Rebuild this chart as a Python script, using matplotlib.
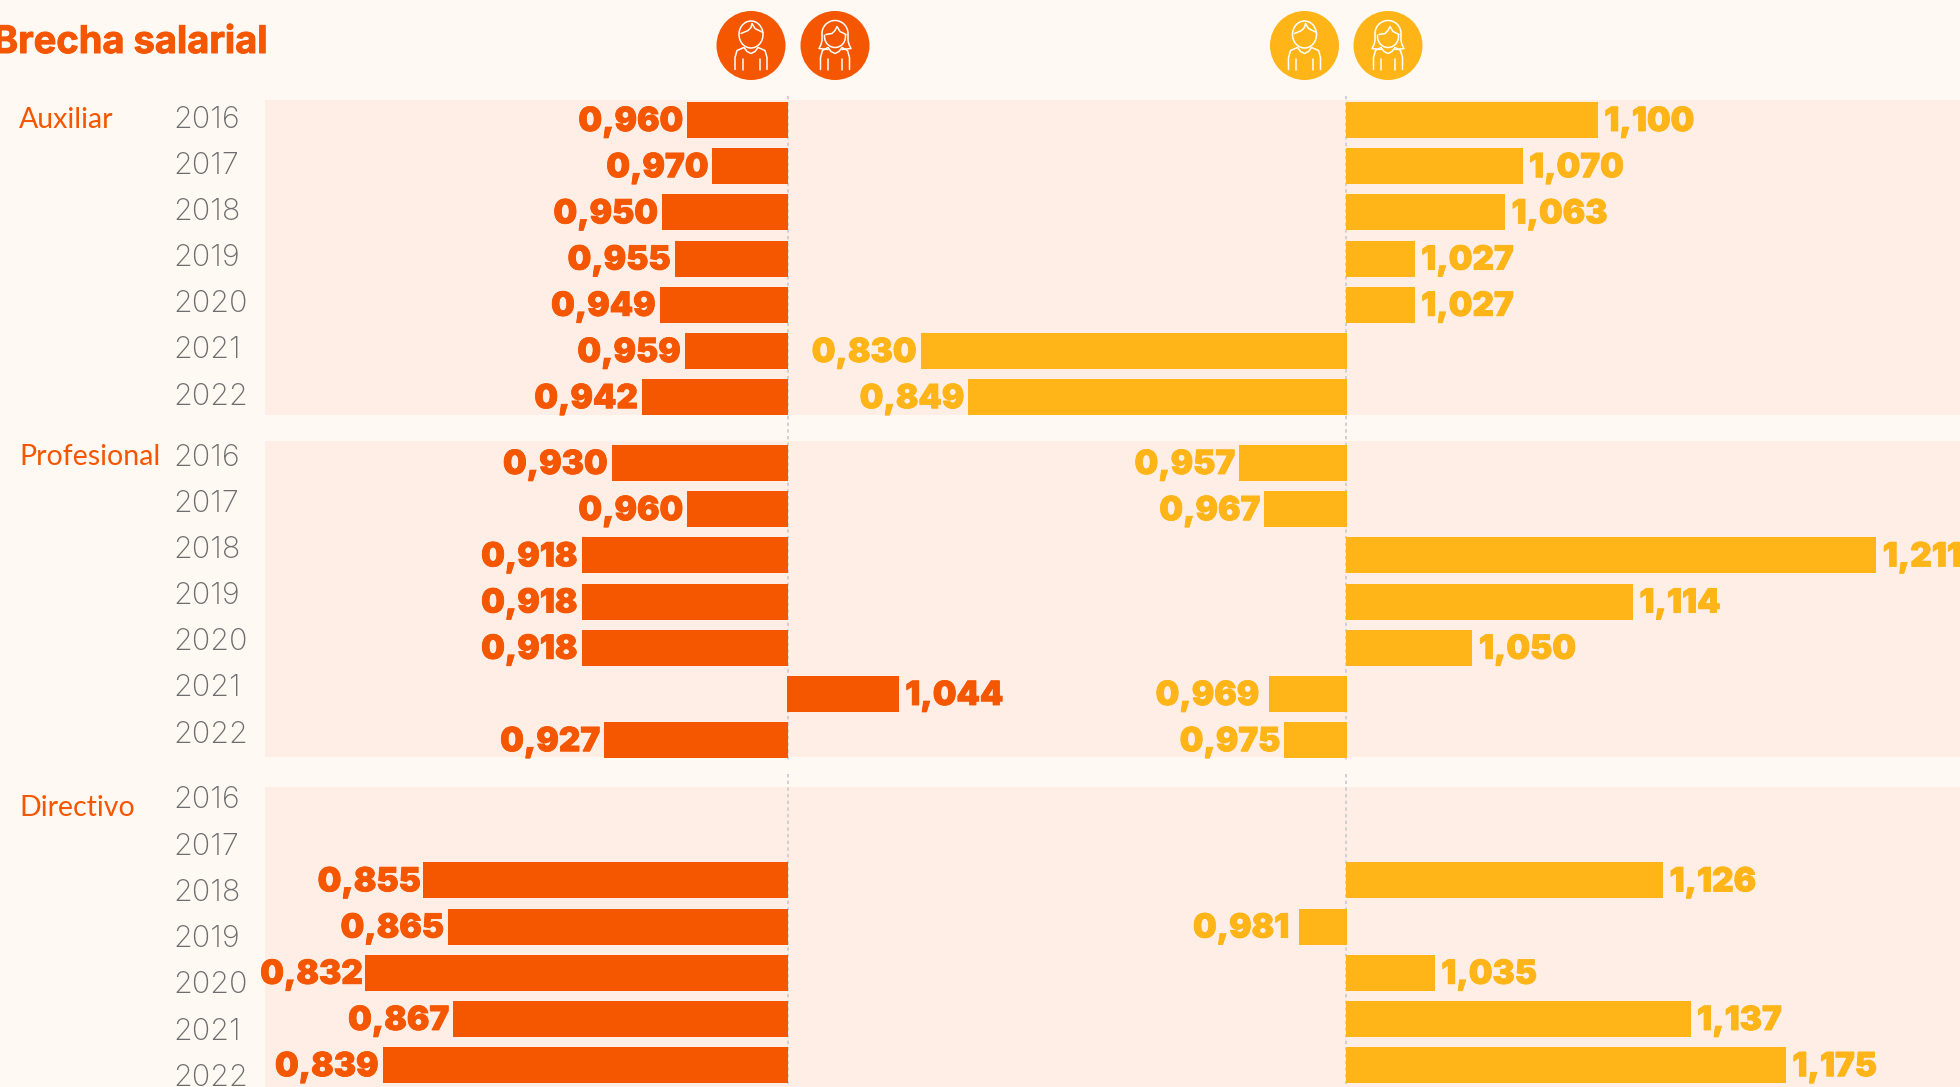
import matplotlib
matplotlib.use('Agg')
import matplotlib.pyplot as plt
import matplotlib.patheffects as pe
from matplotlib.patches import Circle, Rectangle, Arc

groups = ['Auxiliar', 'Profesional', 'Directivo']
years = ['2016', '2017', '2018', '2019', '2020', '2021', '2022']

orange_vals = [
    [0.960, 0.970, 0.950, 0.955, 0.949, 0.959, 0.942],
    [0.930, 0.960, 0.918, 0.918, 0.918, 1.044, 0.927],
    [None, None, 0.855, 0.865, 0.832, 0.867, 0.839],
]
yellow_vals = [
    [1.100, 1.070, 1.063, 1.027, 1.027, 0.830, 0.849],
    [0.957, 0.967, 1.211, 1.114, 1.050, 0.969, 0.975],
    [None, None, 1.126, 0.981, 1.035, 1.137, 1.175],
]

W, H = 1960, 1087
BG = '#FFF8F3'
BAND = '#FFEEE6'
ORANGE = '#F55600'
YELLOW = '#FFB517'
GRAY = '#6E6E6E'

# pixel layout
bands = [(100, 415), (441, 757), (787, 1087)]
bar_top = [102, 445, 770]
pitch = 46.2
bar_h = 36
year_y = [119.5, 457.5, 800.5]
group_y = [120, 457, 808]
group_x = [19, 19, 19]
SCALE_O = 2518.0
SCALE_Y = 2508.0
BASE_O = 788
BASE_Y = 1347
# labels that sit further from their bar in the original (series, group, row): px
label_nudge = {('y', 1, 5): -6, ('y', 2, 3): -6, ('o', 2, 2): 2, ('o', 2, 4): 2}


def fmt(v):
    return ('%.3f' % v).replace('.', ',')


fig = plt.figure(figsize=(W / 100, H / 100), dpi=100, facecolor=BG)
ax = fig.add_axes([0, 0, 1, 1])
ax.set_xlim(0, W)
ax.set_ylim(H, 0)
ax.axis('off')

# value axes: 1.0 sits on the two baselines
ax_o = fig.add_axes([0, 0, 1, 1], facecolor='none')
ax_o.set_xlim(1 - BASE_O / SCALE_O, 1 + (W - BASE_O) / SCALE_O)
ax_o.set_ylim(H, 0)
ax_o.axis('off')
ax_y = fig.add_axes([0, 0, 1, 1], facecolor='none')
ax_y.set_xlim(1 - BASE_Y / SCALE_Y, 1 + (W - BASE_Y) / SCALE_Y)
ax_y.set_ylim(H, 0)
ax_y.axis('off')

for top, bottom in bands:
    ax.add_patch(Rectangle((265, top), W - 265, bottom - top, color=BAND, lw=0))

for x in (BASE_O, BASE_Y - 1):
    ax.plot([x, x], [96, 762], color='#C9C9C9', lw=1.2, ls=(0, (2, 2)))
    ax.plot([x, x], [774, H], color='#C9C9C9', lw=1.2, ls=(0, (2, 2)))


def draw_bars(a, vals, color, scale, key):
    for g in range(3):
        for i, v in enumerate(vals[g]):
            if v is None:
                continue
            y = bar_top[g] + i * pitch + bar_h / 2
            dx = label_nudge.get((key, g, i), 0) / scale
            if v >= 1:
                a.barh(y, v - 1 + 1 / scale, left=1 - 1 / scale, height=bar_h, color=color, lw=0)
                t = a.text(v + 6.5 / scale + dx, y + 2, fmt(v), color=color, ha='left', va='center',
                           fontsize=24, family='Inter', fontweight='black')
            else:
                a.barh(y, v - 1, left=1, height=bar_h, color=color, lw=0)
                t = a.text(v - 4 / scale + dx, y + 2, fmt(v), color=color, ha='right', va='center',
                           fontsize=24, family='Inter', fontweight='black')
            t.set_path_effects([pe.withStroke(linewidth=0.6, foreground=color)])


draw_bars(ax_o, orange_vals, ORANGE, SCALE_O, 'o')
draw_bars(ax_y, yellow_vals, YELLOW, SCALE_Y, 'y')

for g, name in enumerate(groups):
    ax.text(group_x[g], group_y[g], name, color=ORANGE, fontsize=20.5, family='Lato',
            va='center', ha='left')
    for i, yr in enumerate(years):
        ax.text(173, year_y[g] + i * pitch, yr, color=GRAY, fontsize=22, family='Inter',
                fontweight='light', va='center', ha='left')

title = ax.text(-7, 43, 'Brecha salarial', color=ORANGE, fontsize=27.4, family='Inter',
                fontweight='bold', va='center', ha='left')
title.set_path_effects([pe.withStroke(linewidth=0.7, foreground=ORANGE)])


def line(cx, cy, xs, ys):
    ax.plot([cx + x for x in xs], [cy + y for y in ys], color='white', lw=1.1,
            solid_capstyle='round', solid_joinstyle='round')


def person(cx, cy, color, long_hair):
    ax.add_patch(Circle((cx, cy), 34.5, color=color, lw=0))
    if long_hair:
        ax.add_patch(Arc((cx, cy - 12), 26, 26, theta1=180, theta2=360, color='white', lw=1.1))
        ax.add_patch(Arc((cx, cy - 9), 21, 22, theta1=-10, theta2=190, color='white', lw=1.1))
        line(cx, cy, [-13, -13, -14, -16, -7], [-12, -5, -1, 3, 4])
        line(cx, cy, [13, 13, 14, 16, 7], [-12, -5, -1, 3, 4])
        line(cx, cy, [-9, -3, 0, 2, 5, 11], [-11, -12, -15, -19, -14, -11])
        arm, side = 7, 14.5
    else:
        ax.add_patch(Arc((cx, cy - 11), 24, 27, theta1=0, theta2=360, color='white', lw=1.1))
        line(cx, cy, [-10, -3, 0, 1, 4, 12], [-12, -15, -18, -22, -17, -13])
        arm, side = 8.5, 16
    # shoulders and arms
    line(cx, cy, [-side, -side, -side + 2, -7, -4, 0, 4, 7, side - 2, side, side],
         [24, 12, 5, 2, 6, 8, 6, 2, 5, 12, 24])
    line(cx, cy, [-arm, -arm], [13, 24])
    line(cx, cy, [arm, arm], [13, 24])


person(751, 45.5, ORANGE, False)
person(835, 45.5, ORANGE, True)
person(1304.5, 45.5, YELLOW, False)
person(1388, 45.5, YELLOW, True)

fig.savefig('out.png', dpi=100, facecolor=BG)
